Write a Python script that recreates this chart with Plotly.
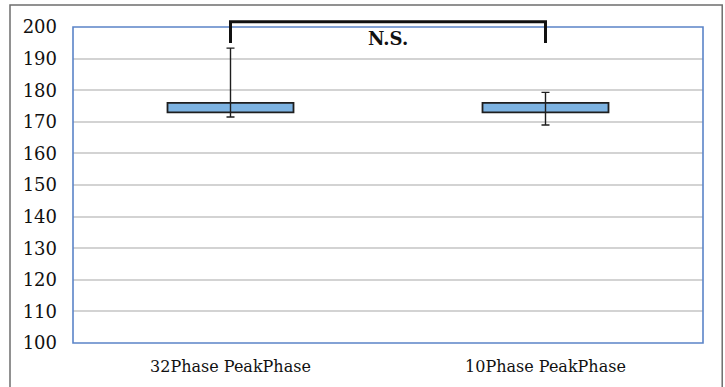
import plotly.graph_objects as go

# Summary statistics per acquisition phase
categories = ["32Phase PeakPhase", "10Phase PeakPhase"]
q1_values = [173.0, 173.0]
q3_values = [176.0, 176.0]
min_values = [171.5, 169.0]
max_values = [193.3, 179.3]

y_ticks = [100, 110, 120, 130, 140, 150, 160, 170, 180, 190, 200]

# Significance bracket levels (y units)
bracket_top = 201.7
bracket_foot = 194.9
bracket_label = "N.S."

y_min, y_max = 100, 200

box_heights = [q3 - q1 for q1, q3 in zip(q1_values, q3_values)]
mid_values = [(q1 + q3) / 2 for q1, q3 in zip(q1_values, q3_values)]
err_plus = [mx - m for mx, m in zip(max_values, mid_values)]
err_minus = [m - mn for mn, m in zip(min_values, mid_values)]

fig = go.Figure()

fig.add_trace(go.Bar(
    x=categories,
    y=box_heights,
    base=q1_values,
    width=0.4,
    marker=dict(color="#7db3e2", line=dict(color="#1e1e1e", width=1.8)),
    showlegend=False,
    hoverinfo="skip",
))

fig.add_trace(go.Scatter(
    x=categories,
    y=mid_values,
    mode="markers",
    marker=dict(size=1, color="rgba(0,0,0,0)"),
    error_y=dict(
        type="data",
        symmetric=False,
        array=err_plus,
        arrayminus=err_minus,
        color="#1e1e1e",
        thickness=1.4,
        width=4,
    ),
    showlegend=False,
    hoverinfo="skip",
))


def to_paper_y(v):
    return (v - y_min) / (y_max - y_min)


n = len(categories)
x_left = 0.5 / n
x_right = 1.5 / n

shapes = [
    # outer frame
    dict(type="rect", xref="paper", yref="paper",
         x0=-0.1, x1=1.0305, y0=-0.16, y1=1.0696,
         line=dict(color="#6e6e6e", width=1.5), fillcolor="rgba(0,0,0,0)",
         layer="below"),
    # plot area border
    dict(type="rect", xref="paper", yref="paper",
         x0=0, x1=1, y0=0, y1=1,
         line=dict(color="#5b84c8", width=1.6), fillcolor="rgba(0,0,0,0)",
         layer="above"),
    # significance bracket
    dict(type="path", xref="paper", yref="paper",
         path=(f"M {x_left} {to_paper_y(bracket_foot)} "
               f"L {x_left} {to_paper_y(bracket_top)} "
               f"L {x_right} {to_paper_y(bracket_top)} "
               f"L {x_right} {to_paper_y(bracket_foot)}"),
         line=dict(color="#111111", width=3)),
]

fig.update_layout(
    width=725,
    height=387,
    margin=dict(l=73, r=22, t=27, b=44),
    paper_bgcolor="white",
    plot_bgcolor="white",
    shapes=shapes,
    annotations=[dict(
        x=0.5, xref="paper", y=to_paper_y(196.3), yref="paper",
        xanchor="center", yanchor="middle",
        text=f"<b>{bracket_label}</b>", showarrow=False,
        font=dict(family="DejaVu Serif", size=18, color="#111111"),
    )],
    bargap=0.6,
)

fig.update_xaxes(
    type="category",
    range=[-0.5, 1.5],
    showgrid=False,
    showline=False,
    zeroline=False,
    tickfont=dict(family="DejaVu Serif", size=16, color="#111111"),
    ticklabelstandoff=12,
)

fig.update_yaxes(
    range=[y_min, y_max],
    tickvals=y_ticks,
    showgrid=True,
    gridcolor="#d3d3d3",
    gridwidth=2,
    zeroline=False,
    showline=False,
    tickfont=dict(family="DejaVu Serif", size=18, color="#111111"),
    ticklabelstandoff=15,
)

fig.write_html("out.html")
